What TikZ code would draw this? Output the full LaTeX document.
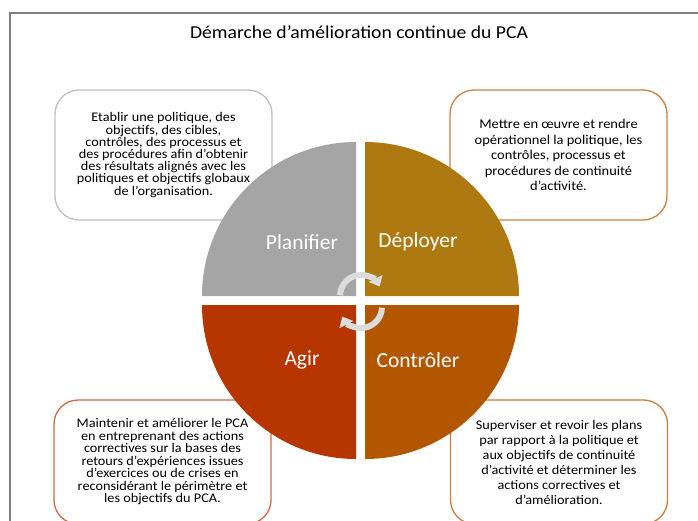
\documentclass[tikz,border=0pt]{standalone}
\usepackage{fontspec}
\setmainfont{Carlito}
\newfontfamily\widefont[FakeStretch=1.08]{Carlito}
\usetikzlibrary{arrows.meta}
\definecolor{planc}{RGB}{165,165,165}
\definecolor{deplc}{RGB}{175,121,17}
\definecolor{ctrlc}{RGB}{178,86,0}
\definecolor{agirc}{RGB}{183,54,0}
\definecolor{cyclec}{RGB}{220,220,220}
\definecolor{framec}{RGB}{127,127,127}
\definecolor{plangray}{RGB}{191,191,191}
\definecolor{deplline}{RGB}{204,128,66}
\definecolor{agirline}{RGB}{212,104,70}
\definecolor{ctrlline}{RGB}{206,124,62}
\tikzset{
  textbox/.style={draw, line width=1.3pt, fill=white, rounded corners=24pt,
    minimum width=217pt, minimum height=130pt, align=center, inner sep=0pt},
  phase/.style={text=white, font=\fontsize{21.5}{25}\selectfont},
  cyclearrow/.style={cyclec, line width=6pt, -{Triangle[width=15pt,length=9pt]}},
}

\begin{document}
\begin{tikzpicture}[x=1pt, y=-1pt]
  \useasboundingbox (0,0) rectangle (698,520);
  \clip (0,0) rectangle (698,520);
  \draw[framec, line width=2pt] (10,13) rectangle (720,540);
  \node(title) at (359,32) {\widefont\fontsize{18.2}{22}\selectfont Démarche d’amélioration continue du PCA};

  % the four text boxes, behind the wheel
  \node[textbox, draw=plangray, font=\widefont\fontsize{13.2}{12.2}\selectfont] (planbox) at (163.5,155)
    {Etablir une politique, des\\ objectifs, des cibles,\\ contrôles, des processus et\\ des procédures afin d’obtenir\\ des résultats alignés avec les\\ politiques et objectifs globaux\\ de l’organisation.};
  \node[textbox, draw=deplline, font=\widefont\fontsize{13.4}{15.6}\selectfont] (deplbox) at (558.5,155)
    {Mettre en œuvre et rendre\\ opérationnel la politique, les\\ contrôles, processus et\\ procédures de continuité\\ d’activité.};
  \node[textbox, draw=agirline, minimum height=124pt, font=\widefont\fontsize{13.2}{12.5}\selectfont] (agirbox) at (162.5,462)
    {Maintenir et améliorer le PCA\\ en entreprenant des actions\\ correctives sur la bases des\\ retours d’expériences issues\\ d’exercices ou de crises en\\ reconsidérant le périmètre et\\ les objectifs du PCA.};
  \node[textbox, draw=ctrlline, minimum height=124pt, font=\widefont\fontsize{13.2}{15}\selectfont] (ctrlbox) at (559,462)
    {Superviser et revoir les plans\\ par rapport à la politique et\\ aux objectifs de continuité\\ d’activité et déterminer les\\ actions correctives et\\ d’amélioration.};

  % wheel: four quarters split by a white cross
  \foreach \dx/\dy/\a/\col in {-1/-1/180/planc, 1/-1/270/deplc, 1/1/0/ctrlc, -1/1/90/agirc}
    \fill[\col] (360.5+4.5*\dx, 300.5+4.5*\dy) -- ++(\a:154)
      arc[start angle=\a, end angle=\a+90, radius=154] -- cycle;

  \node[phase] (plan) at (302,242) {Planifier};
  \node[phase] (depl) at (418,242) {Déployer};
  \node[phase] (agir) at (302,360) {Agir};
  \node[phase] (ctrl) at (418,360) {Contrôler};

  % turning arrows in the middle
  \draw[cyclearrow] (361,296) ++(182:21) arc[start angle=182, end angle=333, radius=21];
  \draw[cyclearrow] (361,307) ++(2:21) arc[start angle=2, end angle=153, radius=21];
\end{tikzpicture}
\end{document}
